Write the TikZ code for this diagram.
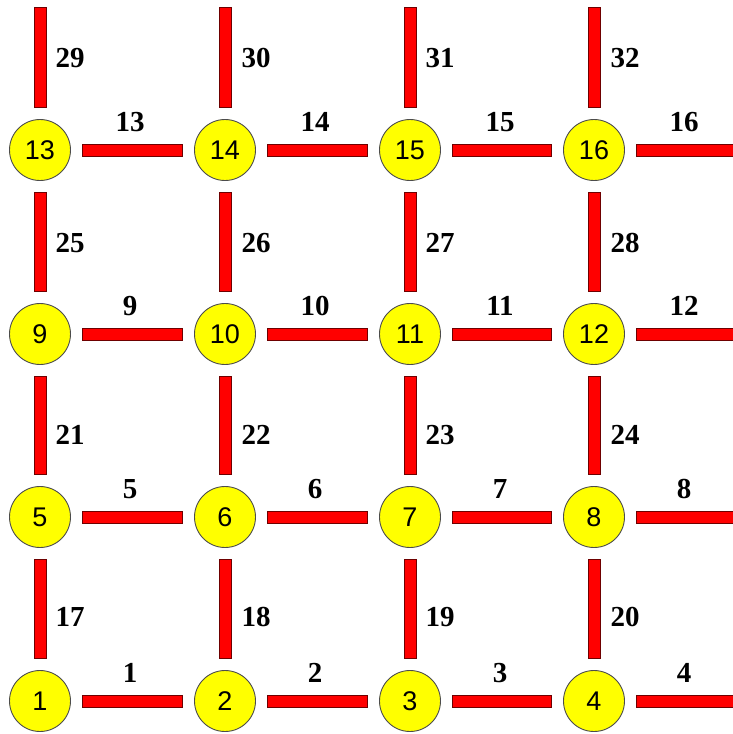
\documentclass[tikz,border=0pt]{standalone}
\usepackage{fontspec}
\setmainfont{Liberation Serif}
\newfontfamily\nodefont{Liberation Sans}
\definecolor{barred}{RGB}{255,0,0}
\definecolor{baredge}{RGB}{110,0,0}
\definecolor{nodeyellow}{RGB}{255,255,0}
\tikzset{
  site/.style={circle, draw=black!70, line width=0.9pt, fill=nodeyellow,
    minimum size=61pt, inner sep=0pt, font=\nodefont\fontsize{27}{27}\selectfont},
  bar/.style={draw=barred, line width=11pt, shorten <=12.5pt, shorten >=12.5pt,
    preaction={draw=baredge, line width=13pt, shorten <=11.5pt, shorten >=11.5pt}},
  lab/.style={font=\bfseries\fontsize{29}{29}\selectfont, inner sep=0pt}
}
\begin{document}
\begin{tikzpicture}[x=1pt,y=-1pt]
\useasboundingbox (0,0) rectangle (733,734);
% sites
\foreach \r/\y in {0/701,1/517,2/334,3/150}
  \foreach \c/\x in {0/40,1/225,2/410,3/594}{
    \pgfmathtruncatemacro\k{4*\r+\c+1}
    \node[site] (n\k) at (\x,\y) {\k};
  }
% free ends
\foreach \k/\y in {4/701,8/517,12/334,16/150}
  \coordinate (e\k) at (760,\y);
\foreach \k/\x in {13/40,14/225,15/410,16/594}
  \coordinate (t\k) at (\x,-4.5);
% horizontal bars
\foreach \a/\b in {1/2,2/3,3/4,5/6,6/7,7/8,9/10,10/11,11/12,13/14,14/15,15/16}
  \draw[bar] (n\a) -- (n\b);
\foreach \a in {4,8,12,16}
  \draw[bar] (n\a) -- (e\a);
% vertical bars
\foreach \a/\b in {1/5,2/6,3/7,4/8,5/9,6/10,7/11,8/12,9/13,10/14,11/15,12/16}
  \draw[bar] (n\a) -- (n\b);
\foreach \a in {13,14,15,16}
  \draw[bar] (t\a) -- (n\a);
% horizontal bar labels
\foreach \r/\y in {0/673,1/489,2/306,3/122}
  \foreach \c/\x in {0/130,1/315,2/500,3/684}{
    \pgfmathtruncatemacro\k{4*\r+\c+1}
    \node[lab] (h\k) at (\x,\y) {\k};
  }
% vertical bar labels
\foreach \r/\y in {0/617,1/435,2/243,3/58}
  \foreach \c/\x in {0/70,1/256,2/440,3/625}{
    \pgfmathtruncatemacro\k{4*\r+\c+17}
    \node[lab] (v\k) at (\x,\y) {\k};
  }
\end{tikzpicture}
\end{document}
